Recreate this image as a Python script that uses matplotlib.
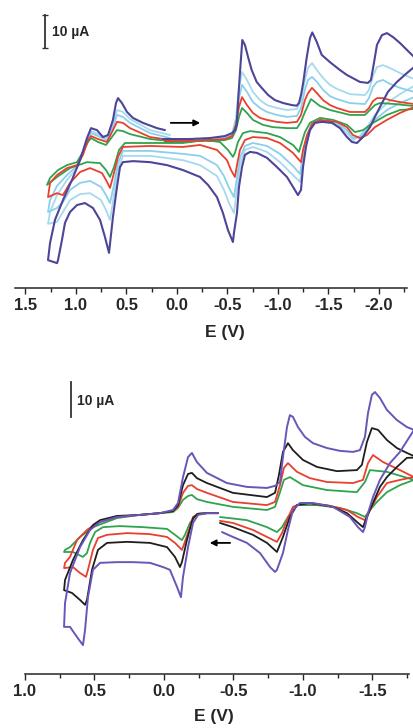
import matplotlib
matplotlib.use('Agg')
import matplotlib.pyplot as plt

# ---------------- data: top panel (E in V, I in uA), scan order ----------------
top_purple_E = [0.139, -0.129, -0.327, -0.475, -0.545, -0.575, -0.591, -0.607, -0.624, -0.647, -0.673, -0.706, -0.740, -0.789, -0.839, -0.904, -0.970, -1.052, -1.136, -1.185, -1.208, -1.230, -1.251, -1.284, -1.317, -1.340, -1.383, -1.433, -1.515, -1.614, -1.683, -1.812, -1.891, -1.921, -1.950, -1.980, -2.030, -2.079, -2.139, -2.208, -2.277, -2.347, -2.38,
                -2.347, -2.277, -2.178, -2.089, -2.030, -1.960, -1.911, -1.842, -1.782, -1.733, -1.683, -1.614, -1.535, -1.436, -1.366, -1.317, -1.277, -1.248, -1.228, -1.198, -1.149, -1.089, -0.990, -0.891, -0.792, -0.723, -0.673, -0.644, -0.614, -0.594, -0.564, -0.554, -0.505, -0.455, -0.396, -0.307, -0.228, -0.059, 0.099, 0.267, 0.436, 0.535, 0.564, 0.594, 0.634, 0.673, 0.713, 0.762, 0.832, 0.911, 0.990, 1.059, 1.109, 1.139, 1.178, 1.188, 1.277,
                1.257, 1.208, 1.129, 1.040, 0.960, 0.891, 0.851, 0.792, 0.733, 0.683, 0.634, 0.604, 0.584, 0.545, 0.495, 0.436, 0.337, 0.198, 0.119]
top_purple_I = [0.9, 0.9, 1.2, 1.8, 2.7, 3.6, 5.2, 13.3, 21.2, 30.9, 29.4, 25.5, 21.8, 18.2, 16.4, 14.2, 12.7, 11.8, 11.2, 11.0, 11.8, 14.5, 18.2, 25.5, 31.5, 33.2, 30.4, 26.4, 24.2, 21.8, 20.3, 18.2, 17.9, 18.8, 23.9, 29.4, 32.4, 33.0, 31.8, 30.0, 27.9, 25.8, 24.0,
                22.7, 20.9, 18.2, 15.2, 11.8, 7.6, 4.5, 1.5, -0.3, 0.0, 1.5, 4.2, 5.8, 6.1, 5.8, 3.6, -1.5, -7.6, -14.5, -16.1, -13.6, -10.6, -7.6, -4.8, -3.3, -3.0, -3.9, -7.6, -13.6, -21.5, -27.6, -30.3, -26.7, -21.5, -16.7, -13.0, -10.6, -8.5, -7.0, -6.1, -5.8, -6.1, -7.6, -13.6, -22.7, -33.6, -28.8, -23.6, -20.0, -18.5, -19.1, -21.2, -24.5, -29.7, -35.8, -36.7, -35.8,
                -30.6, -23.6, -17.6, -11.5, -5.5, 1.2, 4.2, 3.6, 1.5, 2.1, 6.7, 11.8, 13.3, 11.8, 9.1, 7.3, 5.8, 4.2, 3.6]

top_red_E = [0.119, -0.129, -0.327, -0.475, -0.545, -0.584, -0.614, -0.644, -0.693, -0.752, -0.822, -0.891, -0.990, -1.089, -1.188, -1.228, -1.267, -1.297, -1.337, -1.386, -1.446, -1.515, -1.584, -1.713, -1.861, -1.901, -1.941, -1.980, -2.040, -2.109, -2.208, -2.347, -2.38,
             -2.347, -2.208, -2.079, -1.960, -1.881, -1.812, -1.743, -1.683, -1.584, -1.416, -1.337, -1.287, -1.248, -1.228, -1.149, -1.020, -0.891, -0.752, -0.673, -0.624, -0.594, -0.574, -0.535, -0.495, -0.396, -0.228, -0.059, 0.267, 0.535, 0.584, 0.634, 0.663, 0.703, 0.743, 0.861, 0.960, 1.059, 1.129, 1.188, 1.277,
             1.257, 1.188, 1.089, 0.990, 0.931, 0.881, 0.851, 0.782, 0.693, 0.634, 0.594, 0.535, 0.465, 0.267, 0.069]
top_red_I = [0.3, 0.3, 0.6, 0.9, 1.8, 5.2, 10.6, 13.6, 11.2, 8.8, 7.3, 6.7, 6.1, 5.8, 6.1, 8.2, 12.7, 14.8, 16.4, 14.8, 12.7, 11.2, 10.3, 9.1, 9.1, 10.3, 12.4, 13.3, 13.3, 12.7, 12.1, 11.5, 10.6,
             10.6, 8.8, 6.7, 4.5, 2.1, 1.2, 2.1, 4.5, 6.1, 6.7, 5.5, 2.1, -2.4, -6.1, -3.3, -0.3, 1.2, 1.5, 0.6, -2.4, -7.0, -10.6, -8.5, -5.5, -2.4, -0.9, -1.5, -1.2, -1.5, -4.5, -10.6, -13.9, -11.5, -9.4, -7.9, -9.1, -12.4, -16.1, -15.5, -16.7,
             -12.4, -10.0, -7.9, -7.0, -3.9, 0.6, 1.8, 0.9, 0.0, 3.6, 6.1, 5.8, 4.2, 1.5, 0.6]

top_green_E = [0.119, -0.228, -0.475, -0.545, -0.584, -0.614, -0.644, -0.693, -0.752, -0.851, -0.950, -1.089, -1.188, -1.228, -1.267, -1.327, -1.416, -1.515, -1.713, -1.861, -1.911, -1.960, -2.010, -2.158, -2.347, -2.38,
               -2.347, -2.208, -2.079, -1.941, -1.842, -1.762, -1.683, -1.545, -1.416, -1.317, -1.267, -1.228, -1.208, -1.149, -1.020, -0.891, -0.723, -0.653, -0.604, -0.574, -0.554, -0.505, -0.426, -0.277, -0.059, 0.267, 0.515, 0.574, 0.624, 0.663, 0.703, 0.762, 0.891, 1.059, 1.188, 1.287,
               1.257, 1.178, 1.089, 0.990, 0.931, 0.881, 0.851, 0.782, 0.703, 0.644, 0.594, 0.535, 0.465, 0.267, 0.069]
top_green_I = [0.0, 0.3, 0.6, 1.2, 3.6, 7.6, 10.3, 8.8, 6.7, 5.2, 4.5, 4.2, 4.2, 6.1, 9.1, 13.0, 10.9, 9.7, 8.2, 8.2, 9.7, 11.2, 11.8, 11.5, 10.9, 10.0,
               10.0, 9.7, 8.2, 5.8, 3.6, 3.0, 5.2, 6.7, 7.3, 5.8, 3.0, -0.9, -3.0, -0.9, 1.5, 2.7, 3.3, 2.7, 0.0, -3.3, -4.5, -2.4, 0.0, 0.6, -0.3, -0.3, -0.3, -2.4, -7.6, -10.6, -8.5, -6.4, -6.1, -7.9, -10.6, -13.0,
               -10.9, -8.5, -7.0, -6.1, -3.0, 0.0, 1.2, 0.0, -0.9, 1.5, 3.6, 3.3, 2.4, 0.9, 0.3]

top_lb_E = [0.119, -0.129, -0.327, -0.475, -0.545, -0.584, -0.614, -0.644, -0.693, -0.752, -0.822, -0.891, -0.990, -1.089, -1.188, -1.228, -1.267, -1.297, -1.337, -1.386, -1.446, -1.515, -1.584, -1.713, -1.861, -1.901, -1.941, -1.980, -2.040, -2.109, -2.208, -2.347, -2.38,
            -2.347, -2.208, -2.079, -1.960, -1.881, -1.812, -1.743, -1.683, -1.584, -1.416, -1.337, -1.287, -1.248, -1.218, -1.149, -1.020, -0.891, -0.752, -0.673, -0.624, -0.594, -0.564, -0.515, -0.465, -0.396, -0.228, -0.059, 0.267, 0.535, 0.584, 0.624, 0.663, 0.703, 0.752, 0.861, 0.960, 1.059, 1.129, 1.188, 1.277,
            1.257, 1.188, 1.089, 0.990, 0.931, 0.881, 0.851, 0.782, 0.693, 0.634, 0.594, 0.535, 0.465, 0.267, 0.069]
top_lb1_I = [0.9, 0.9, 0.9, 1.5, 2.4, 7.3, 16.4, 21.2, 18.8, 15.2, 12.7, 11.2, 10.3, 9.7, 10.0, 12.7, 18.8, 22.4, 23.9, 21.8, 19.4, 17.3, 16.1, 14.5, 14.2, 15.8, 20.0, 22.7, 23.3, 22.4, 20.9, 19.1, 17.5,
             17.0, 14.5, 11.8, 8.2, 4.5, 1.8, 0.6, 2.7, 5.5, 6.4, 5.5, 0.6, -6.1, -12.1, -10.0, -6.1, -3.0, -1.5, -2.4, -7.0, -14.5, -21.5, -18.5, -14.5, -10.3, -7.0, -5.5, -4.2, -4.2, -8.5, -16.1, -23.6, -20.6, -17.6, -15.5, -15.8, -17.6, -21.2, -24.2, -24.8,
             -21.2, -16.1, -11.5, -7.9, -3.3, 1.2, 3.3, 2.4, 1.2, 5.5, 9.7, 9.1, 7.0, 3.6, 2.1]
top_lb2_I = [0.6, 0.6, 0.6, 1.2, 2.1, 6.1, 13.3, 17.3, 15.2, 12.1, 10.3, 9.1, 8.2, 7.6, 7.9, 10.3, 15.8, 18.8, 19.7, 18.2, 15.8, 13.9, 13.0, 11.8, 11.5, 13.3, 16.7, 18.2, 18.8, 17.6, 16.4, 15.2, 14.0,
             13.6, 11.8, 9.7, 6.7, 3.6, 1.5, 1.2, 3.6, 5.8, 6.4, 5.5, 1.5, -3.9, -9.7, -7.3, -3.6, -1.2, -0.3, -1.2, -4.8, -10.9, -16.7, -13.9, -10.3, -7.0, -4.2, -3.6, -2.7, -2.7, -6.4, -13.0, -18.5, -16.1, -13.6, -11.8, -12.4, -14.5, -18.2, -20.0, -21.2,
             -17.6, -13.3, -10.0, -7.3, -3.3, 0.9, 2.7, 1.8, 0.6, 4.5, 8.2, 7.6, 5.8, 2.7, 1.2]

# ---------------- data: bottom panel (E in V, I in uA), scan order ----------------
bot_purple_E = [-0.388, -0.309, -0.245, -0.209, -0.173, -0.137, -0.122, -0.094, -0.043, 0.007, 0.101, 0.223, 0.338, 0.460, 0.511, 0.547, 0.568, 0.583, 0.626, 0.676, 0.719,
                0.712, 0.676, 0.604, 0.532, 0.460, 0.338, 0.173, 0.029, -0.065, -0.101, -0.137, -0.173, -0.201, -0.237, -0.309, -0.453, -0.597, -0.741, -0.799, -0.835, -0.856, -0.885, -0.906, -0.928, -0.964, -1.014, -1.072, -1.173, -1.266, -1.360, -1.410, -1.446, -1.468, -1.496, -1.518, -1.554, -1.604, -1.676, -1.748, -1.799, -1.84,
                -1.799, -1.698, -1.626, -1.554, -1.504, -1.468, -1.446, -1.432, -1.396, -1.338, -1.216, -1.072, -0.978, -0.928, -0.892, -0.856, -0.813, -0.799, -0.763, -0.691, -0.597, -0.496, -0.417]
bot_purple_I = [-0.9, -0.9, -1.4, -3.7, -10.6, -19.1, -24.9, -22.0, -17.1, -16.3, -15.1, -14.9, -14.9, -15.1, -17.1, -24.9, -34.3, -38.6, -36.3, -33.4, -33.4,
                -26.6, -18.0, -10.6, -5.7, -3.4, -2.0, -1.4, -0.9, 0.0, 2.0, 9.4, 15.1, 16.3, 13.7, 10.6, 7.7, 6.6, 6.3, 6.9, 8.0, 15.1, 23.7, 27.1, 26.6, 23.7, 20.9, 19.1, 17.7, 16.9, 16.6, 17.1, 20.9, 27.7, 32.9, 33.7, 32.0, 28.6, 25.7, 23.7, 22.9, 22.0,
                20.0, 16.6, 13.4, 8.6, 3.7, -0.9, -4.9, -6.3, -4.9, -2.0, 0.9, 2.0, 2.0, 0.0, -5.7, -12.3, -17.1, -17.7, -16.3, -12.3, -9.4, -7.7, -6.3]

bot_black_E = [-0.388, -0.309, -0.245, -0.209, -0.165, -0.129, -0.115, -0.079, -0.022, 0.101, 0.266, 0.410, 0.475, 0.518, 0.554, 0.568, 0.604, 0.662, 0.719,
               0.712, 0.655, 0.583, 0.511, 0.460, 0.338, 0.173, 0.029, -0.065, -0.101, -0.137, -0.173, -0.201, -0.237, -0.309, -0.496, -0.741, -0.799, -0.827, -0.856, -0.892, -0.928, -1.000, -1.101, -1.245, -1.388, -1.424, -1.460, -1.496, -1.540, -1.604, -1.676, -1.748, -1.799, -1.84,
               -1.748, -1.676, -1.604, -1.554, -1.482, -1.446, -1.432, -1.388, -1.317, -1.216, -1.050, -0.957, -0.906, -0.856, -0.813, -0.741, -0.640, -0.496, -0.403]
bot_black_I = [-0.9, -0.9, -1.1, -2.3, -8.6, -14.9, -16.3, -13.4, -10.6, -9.4, -9.1, -9.4, -11.4, -17.1, -25.7, -27.1, -25.7, -23.7, -22.9,
               -20.0, -14.3, -8.6, -4.3, -2.9, -1.7, -1.4, -0.9, -0.3, 1.4, 7.1, 10.3, 10.6, 9.1, 7.7, 4.9, 3.7, 4.9, 10.0, 16.6, 19.1, 17.1, 14.3, 12.3, 11.1, 11.4, 12.9, 19.4, 23.4, 22.9, 20.0, 17.7, 16.3, 15.4, 15.0,
               14.9, 12.3, 9.4, 6.6, 0.0, -3.4, -4.9, -3.4, -0.9, 0.9, 2.0, 1.4, -2.0, -7.7, -12.0, -9.4, -7.1, -4.9, -3.7]

bot_red_E = [-0.388, -0.309, -0.245, -0.209, -0.173, -0.137, -0.129, -0.079, -0.022, 0.101, 0.266, 0.410, 0.475, 0.511, 0.547, 0.561, 0.604, 0.655, 0.719,
             0.712, 0.676, 0.626, 0.554, 0.482, 0.338, 0.173, 0.029, -0.065, -0.101, -0.137, -0.173, -0.201, -0.237, -0.309, -0.496, -0.741, -0.799, -0.835, -0.863, -0.892, -0.957, -1.050, -1.173, -1.360, -1.432, -1.468, -1.504, -1.576, -1.698, -1.799, -1.84,
             -1.799, -1.698, -1.604, -1.532, -1.482, -1.446, -1.396, -1.317, -1.173, -1.000, -0.928, -0.885, -0.849, -0.813, -0.741, -0.640, -0.496, -0.403]
bot_red_I = [-0.9, -0.9, -1.1, -2.0, -6.6, -10.6, -11.4, -9.4, -7.7, -6.9, -6.6, -7.1, -8.0, -11.4, -17.1, -19.1, -18.0, -16.3, -16.6,
             -15.1, -13.4, -8.6, -5.7, -3.7, -2.0, -1.4, -0.9, -0.3, 0.9, 4.9, 6.9, 7.1, 6.0, 4.9, 2.3, 1.4, 2.3, 7.1, 12.0, 13.4, 10.9, 9.1, 8.0, 7.7, 8.6, 13.4, 15.7, 13.7, 11.4, 9.4, 9.2,
             9.1, 8.6, 7.7, 3.7, 0.0, -2.9, -2.0, 0.0, 1.4, 2.0, 0.9, -2.9, -6.6, -9.1, -7.7, -5.7, -3.7, -3.1]

bot_green_E = [-0.388, -0.309, -0.237, -0.187, -0.151, -0.129, -0.079, -0.022, 0.151, 0.317, 0.439, 0.496, 0.532, 0.554, 0.583, 0.655, 0.719,
               0.712, 0.676, 0.604, 0.511, 0.338, 0.173, 0.029, -0.065, -0.101, -0.137, -0.173, -0.201, -0.237, -0.309, -0.496, -0.741, -0.799, -0.835, -0.863, -0.906, -1.000, -1.173, -1.388, -1.446, -1.482, -1.604, -1.799, -1.84,
               -1.799, -1.698, -1.604, -1.532, -1.482, -1.446, -1.388, -1.266, -1.101, -0.957, -0.892, -0.849, -0.813, -0.741, -0.597, -0.403]
bot_green_I = [-0.9, -0.9, -1.1, -3.7, -7.1, -8.6, -7.1, -5.4, -4.9, -4.6, -4.9, -6.3, -9.4, -12.3, -13.4, -12.0, -12.0,
               -11.4, -10.6, -7.7, -4.9, -2.3, -1.4, -0.9, -0.6, 0.6, 2.9, 4.0, 4.3, 3.1, 2.3, 0.9, 0.0, 0.9, 5.1, 8.6, 9.4, 7.1, 5.7, 5.1, 8.0, 11.4, 10.9, 8.6, 8.3,
               8.0, 7.1, 5.1, 2.3, 0.0, -2.0, -0.9, 0.6, 1.4, 1.4, -2.0, -4.9, -6.3, -4.9, -2.9, -2.0]

top_ticks = [1.5, 1.0, 0.5, 0.0, -0.5, -1.0, -1.5, -2.0]
top_ticklabels = ['1.5', '1.0', '0.5', '0.0', '-0.5', '-1.0', '-1.5', '-2.0']
bot_ticks = [1.0, 0.5, 0.0, -0.5, -1.0, -1.5]
bot_ticklabels = ['1.0', '0.5', '0.0', '-0.5', '-1.0', '-1.5']
scale_label = '10 \u00b5A'
x_label = 'E (V)'

# ---------------- figure ----------------
W, H = 414, 728
fig = plt.figure(figsize=(W / 100, H / 100), dpi=100)
FONT = ['Liberation Sans', 'DejaVu Sans']
TXT = '#262626'

def px_axes(left, top, right, bottom):
    return fig.add_axes([left / W, 1 - bottom / H, (right - left) / W, (bottom - top) / H])

def style_axis(ax, ticks, labels, minor, bounds):
    for s in ('left', 'right', 'top'):
        ax.spines[s].set_visible(False)
    ax.spines['bottom'].set_bounds(*bounds)
    ax.spines['bottom'].set_linewidth(1.1)
    ax.spines['bottom'].set_color(TXT)
    ax.set_yticks([])
    ax.set_xticks(ticks)
    ax.set_xticklabels(labels, fontfamily=FONT, fontweight='bold', fontsize=12, color=TXT)
    ax.set_xticks(minor, minor=True)
    ax.tick_params(axis='x', which='major', direction='out', length=4.5, width=1.0, color=TXT, pad=3)
    ax.tick_params(axis='x', which='minor', direction='out', length=3, width=1.0, color=TXT)
    ax.patch.set_alpha(0)

LINE = dict(solid_joinstyle='round', solid_capstyle='round')

# top panel
ax1 = px_axes(15.4, 0, 414, 288)
ax1.set_xlim(1.60, -2.347)
ax1.set_ylim(-44.24, 43.03)
style_axis(ax1, top_ticks, top_ticklabels,
           [1.25, 0.75, 0.25, -0.25, -0.75, -1.25, -1.75, -2.25], (1.60, -2.28))
ax1.plot(top_lb_E, top_lb2_I, color='#6fc3e6', lw=1.3, alpha=0.8, **LINE)
ax1.plot(top_lb_E, top_lb1_I, color='#8fd0ea', lw=1.3, alpha=0.8, **LINE)
ax1.plot(top_green_E, top_green_I, color='#2fa34e', lw=1.3, **LINE)
ax1.plot(top_red_E, top_red_I, color='#e8402e', lw=1.3, **LINE)
ax1.plot(top_purple_E, top_purple_I, color='#4d4598', lw=1.5, **LINE)

# scale bar top
ax1.plot([1.307, 1.307], [28.5, 38.5], color='#333333', lw=1.3)
ax1.plot([1.307, 1.307], [28.5, 38.5], color='#333333', lw=0, marker='_', ms=4, mew=1.0)
ax1.text(1.238, 33.3, scale_label, fontfamily=FONT, fontweight='bold', fontsize=10, color=TXT,
         ha='left', va='center')
ax1.annotate('', xy=(-0.257, 5.8), xytext=(0.089, 5.8),
             arrowprops=dict(arrowstyle='-|>', color='black', lw=1.3, mutation_scale=9))

# bottom panel
ax2 = px_axes(25, 372, 414, 674)
ax2.set_xlim(1.0, -1.799)
ax2.set_ylim(-46.86, 39.43)
style_axis(ax2, bot_ticks, bot_ticklabels,
           [0.75, 0.25, -0.25, -0.75, -1.25, -1.75], (1.0, -1.76))
ax2.plot(bot_green_E, bot_green_I, color='#2fa34e', lw=1.3, **LINE)
ax2.plot(bot_red_E, bot_red_I, color='#e8402e', lw=1.3, **LINE)
ax2.plot(bot_black_E, bot_black_I, color='#1e1e1e', lw=1.3, **LINE)
ax2.plot(bot_purple_E, bot_purple_I, color='#6a55b8', lw=1.4, **LINE)

ax2.plot([0.669, 0.669], [26.6, 36.6], color='#333333', lw=1.3)
ax2.text(0.626, 31.1, scale_label, fontfamily=FONT, fontweight='bold', fontsize=10, color=TXT,
         ha='left', va='center')
ax2.annotate('', xy=(-0.309, -9.4), xytext=(-0.496, -9.4),
             arrowprops=dict(arrowstyle='-|>', color='black', lw=1.3, mutation_scale=9))

fig.text(225 / W, 1 - 333 / H, x_label, fontfamily=FONT, fontweight='bold', fontsize=12.5,
         color=TXT, ha='center', va='center')
fig.text(214 / W, 1 - 717 / H, x_label, fontfamily=FONT, fontweight='bold', fontsize=12.5,
         color=TXT, ha='center', va='center')

fig.savefig('out.png', dpi=100, facecolor='white')
